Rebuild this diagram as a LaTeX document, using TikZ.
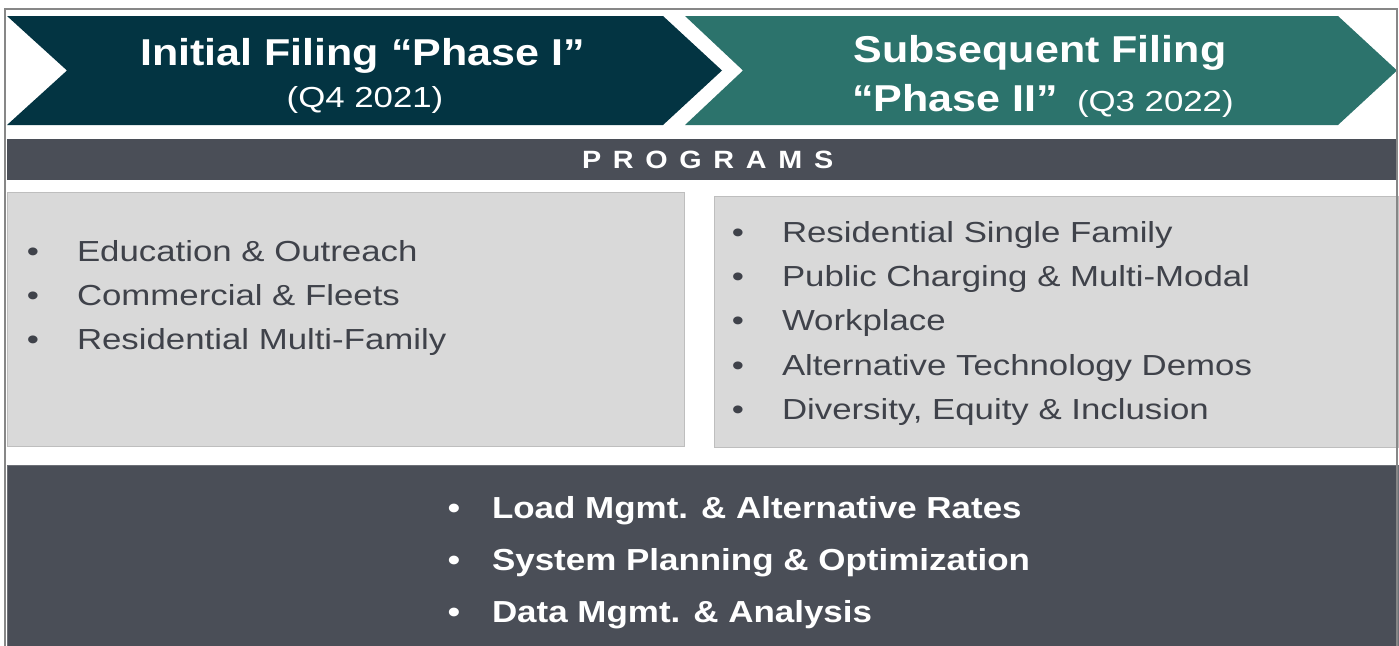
\documentclass[tikz,border=0pt]{standalone}
\usepackage{fontspec}
\setmainfont{Liberation Sans}
\newfontfamily\headfont{Liberation Sans}[FakeStretch=1.15]
\newfontfamily\bodyfont{Liberation Sans}[FakeStretch=1.2]

\definecolor{phaseone}{RGB}{3,52,66}
\definecolor{phasetwo}{RGB}{44,115,108}
\definecolor{slate}{RGB}{74,78,87}
\definecolor{slateedge}{RGB}{108,111,118}
\definecolor{panel}{RGB}{217,217,217}
\definecolor{paneledge}{RGB}{190,190,190}
\definecolor{itemtext}{RGB}{63,66,74}
\definecolor{frame}{RGB}{135,135,135}

% letter-spaced heading
\newcommand{\spacedcaps}{P\kern11.7pt R\kern11.7pt O\kern11.7pt G\kern11.7pt R\kern11.7pt A\kern11.7pt M\kern11.7pt S}

\begin{document}
\begin{tikzpicture}[x=1pt,y=-1pt,
  every node/.style={inner sep=0pt,outer sep=0pt},
  headline/.style={text=white,font=\headfont\bfseries\fontsize{37.4}{40}\selectfont},
  dateline/.style={text=white,font=\bodyfont\fontsize{29}{32}\selectfont},
  item/.style={text=itemtext,anchor=base west,font=\bodyfont\fontsize{29}{32}\selectfont},
  itembullet/.style={text=itemtext,anchor=base,font=\bodyfont\fontsize{29}{32}\selectfont},
  keyitem/.style={text=white,anchor=base west,font=\headfont\bfseries\fontsize{30.4}{33}\selectfont},
  keybullet/.style={text=white,anchor=base,font=\headfont\bfseries\fontsize{30.4}{33}\selectfont}
]
\useasboundingbox (0,0) rectangle (1399,645);

% phase chevrons
\fill[phaseone] (7,16) -- (663,16) -- (722,70.5) -- (663,125) -- (7,125) -- (67,70.5) -- cycle;
\fill[phasetwo] (685,16) -- (1338,16) -- (1397,70.5) -- (1338,125) -- (685,125) -- (743,70.5) -- cycle;

% programs bar
\fill[slate] (7,139) rectangle (1397,180);

% program panels
\filldraw[fill=panel,draw=paneledge,line width=1pt] (7,192.5) rectangle (684,446);
\filldraw[fill=panel,draw=paneledge,line width=1pt] (714,196) rectangle (1398,447);

% bottom band
\filldraw[fill=slate,draw=slateedge,line width=1pt] (7,465.5) rectangle (1398,650);

% outer frame (open at the bottom)
\draw[frame,line width=2pt] (5,650) -- (5,9) -- (1396.5,9) -- (1396.5,650);

% chevron titles
\node[headline,anchor=base] (t1) at (362.5,65.5) {Initial Filing “Phase I”};
\node[dateline,anchor=base] (d1) at (365,107.7) {(Q4 2021)};
\node[headline,anchor=base] (t2) at (1040,62.7) {Subsequent Filing};
\node[headline,anchor=base west] (t2b) at (852,111.5) {“Phase II”};
\node[dateline,anchor=base west] (d2) at (1077,111.5) {(Q3 2022)};

% bar heading
\node[text=white,anchor=base west,font=\headfont\bfseries\fontsize{25}{28}\selectfont] (prog) at (582,168) {\spacedcaps};

% phase I programs
\node[itembullet] (lb1) at (33,261) {•};
\node[item] (l1) at (77,261) {Education \& Outreach};
\node[itembullet] (lb2) at (33,305) {•};
\node[item] (l2) at (77,305) {Commercial \& Fleets};
\node[itembullet] (lb3) at (33,349) {•};
\node[item] (l3) at (77,349) {Residential Multi-Family};

% phase II programs
\node[itembullet] (rb1) at (738,242) {•};
\node[item] (r1) at (782,242) {Residential Single Family};
\node[itembullet] (rb2) at (738,286) {•};
\node[item] (r2) at (782,286) {Public Charging \& Multi-Modal};
\node[itembullet] (rb3) at (738,330) {•};
\node[item] (r3) at (782,330) {Workplace};
\node[itembullet] (rb4) at (738,375) {•};
\node[item] (r4) at (782,375) {Alternative Technology Demos};
\node[itembullet] (rb5) at (738,419) {•};
\node[item] (r5) at (782,419) {Diversity, Equity \& Inclusion};

% cross-cutting items
\node[keybullet] (kb1) at (454,518) {•};
\node[keyitem] (k1) at (492,518) {Load Mgmt. \& Alternative Rates};
\node[keybullet] (kb2) at (454,570) {•};
\node[keyitem] (k2) at (492,570) {System Planning \& Optimization};
\node[keybullet] (kb3) at (454,622) {•};
\node[keyitem] (k3) at (492,622) {Data Mgmt. \& Analysis};
\end{tikzpicture}
\end{document}
